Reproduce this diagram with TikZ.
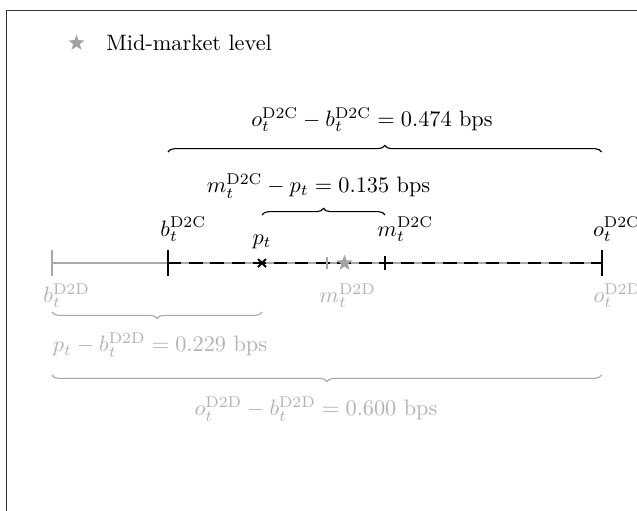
\documentclass[tikz,border=0pt]{standalone}
\usepackage{tikz}
\usetikzlibrary{shapes.geometric, decorations.pathreplacing, positioning}
\usepackage{amsmath}
\definecolor{framegrey}{gray}{0.2}
\definecolor{linegrey}{gray}{0.66}
\definecolor{labelgrey}{gray}{0.70}
\definecolor{stargrey}{gray}{0.64}
\tikzstyle{frameline} = [line width=0.6pt, color=framegrey]
\tikzstyle{dtdline}   = [line width=0.8pt, color=linegrey]
\tikzstyle{dtcline}   = [line width=0.9pt, dash pattern=on 6pt off 3.5pt]
\tikzstyle{dtctick}   = [line width=0.9pt]
\tikzstyle{dtdtick}   = [line width=0.8pt, color=linegrey]
\tikzstyle{midstar}   = [star, star points=5, star point ratio=2.4, fill=stargrey, draw=none, inner sep=0pt, minimum size=7.5pt]
\tikzstyle{upbrace}   = [decorate, decoration={brace, amplitude=3pt}, line width=0.5pt]
\tikzstyle{downbrace} = [decorate, decoration={brace, amplitude=3pt, mirror}, line width=0.5pt, color=linegrey]
\tikzstyle{dtclabel}  = [inner sep=0pt, anchor=south west]
\tikzstyle{dtdlabel}  = [inner sep=0pt, anchor=north west, text=labelgrey]

\begin{document}
\begin{tikzpicture}

\useasboundingbox (0,0) rectangle (10.045,-8.043);

% axis frame (only the top and left sides are visible)
\coordinate (FTL) at (0.103,-0.166);
\draw[frameline] (0.103,-8.3) -- (FTL) -- (10.3,-0.166);

% legend
\node[midstar] (LS) at (1.206,-0.678) {};
\node[inner sep=0pt, anchor=base west] (LT) at (1.672,-0.789) {Mid-market level};

% price levels
\coordinate (bD2D) at (0.820,-4.148);
\coordinate (bD2C) at (2.649,-4.148);
\coordinate (pt)   at (4.132,-4.148);
\coordinate (mD2D) at (5.157,-4.148);
\coordinate (mid)  at (5.433,-4.148);
\coordinate (mD2C) at (6.071,-4.148);
\coordinate (oD2C) at (9.486,-4.148);
\coordinate (oD2D) at (9.486,-4.148);

\draw[dtdline] (bD2D) -- (oD2D);
\draw[dtcline] (bD2C) -- (oD2C);

\draw[dtdtick] ([yshift=-0.2cm]bD2D) -- ([yshift=0.2cm]bD2D);
\draw[dtdtick] ([yshift=-0.1cm]mD2D) -- ([yshift=0.1cm]mD2D);
\draw[dtctick] ([yshift=-0.2cm]bD2C) -- ([yshift=0.2cm]bD2C);
\draw[dtctick] ([yshift=-0.2cm]oD2C) -- ([yshift=0.2cm]oD2C);
\draw[dtctick] ([yshift=-0.11cm]mD2C) -- ([yshift=0.11cm]mD2C);
\draw[dtctick] ([xshift=-0.095cm]mD2C) -- ([xshift=0.095cm]mD2C);
\draw[dtctick] ([shift={(-0.063,-0.063)}]pt) -- ([shift={(0.063,0.063)}]pt);
\draw[dtctick] ([shift={(-0.063,0.063)}]pt) -- ([shift={(0.063,-0.063)}]pt);
\node[midstar] (MS) at (mid) {};

% level labels
\node[dtclabel] (LbC) at (2.523,-3.816) {$b_t^{\mathrm{D2C}}$};
\node[inner sep=0pt, anchor=south] (Lp) at (4.132,-3.927) {$p_t$};
\node[dtclabel] (LmC) at (5.945,-3.816) {$m_t^{\mathrm{D2C}}$};
\node[dtclabel] (LoC) at (9.345,-3.816) {$o_t^{\mathrm{D2C}}$};
\node[dtdlabel] (LbD) at (0.678,-4.463) {$b_t^{\mathrm{D2D}}$};
\node[dtdlabel] (LmD) at (5.031,-4.463) {$m_t^{\mathrm{D2D}}$};
\node[dtdlabel] (LoD) at (9.352,-4.463) {$o_t^{\mathrm{D2D}}$};

% spreads
\draw[upbrace] ([yshift=1.751cm]bD2C) -- ([yshift=1.751cm]oD2C);
\node (S1) at (5.866,-1.885) {$o_t^{\mathrm{D2C}}-b_t^{\mathrm{D2C}}=0.474$ bps};

\draw[upbrace] ([yshift=0.758cm]pt) -- ([yshift=0.758cm]mD2C);
\node (S2) at (5.023,-2.933) {$m_t^{\mathrm{D2C}}-p_t=0.135$ bps};

\draw[downbrace] ([yshift=-0.772cm]bD2D) -- ([yshift=-0.772cm]pt);
\node[text=labelgrey] (S3) at (2.523,-5.441) {$p_t-b_t^{\mathrm{D2D}}=0.229$ bps};

\draw[downbrace] ([yshift=-1.766cm]bD2D) -- ([yshift=-1.766cm]oD2D);
\node[text=labelgrey] (S4) at (4.983,-6.450) {$o_t^{\mathrm{D2D}}-b_t^{\mathrm{D2D}}=0.600$ bps};

\end{tikzpicture}
\end{document}
